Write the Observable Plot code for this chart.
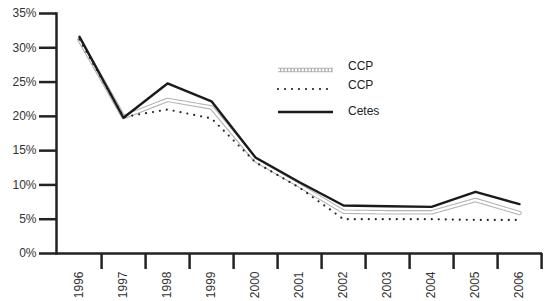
<!DOCTYPE html>
<html>
<head>
<meta charset="utf-8">
<script src="https://cdn.jsdelivr.net/npm/d3@7"></script>
<script src="https://cdn.jsdelivr.net/npm/@observablehq/plot@0.6"></script>
<style>
  html, body { margin: 0; padding: 0; background: #fff; }
  #wrap { position: relative; width: 545px; height: 301px; font-family: "Liberation Sans", Arial, sans-serif; }
  #legend { position: absolute; left: 0; top: 0; pointer-events: none; }
</style>
</head>
<body>
<div id="wrap"></div>
<script>
const years = ["1996","1997","1998","1999","2000","2001","2002","2003","2004","2005","2006"];
const cetes = [31.6, 19.8, 24.8, 22.2, 14.0, 10.4, 7.0, 6.9, 6.8, 9.0, 7.2];
const ccpA  = [31.2, 19.9, 22.4, 21.3, 13.6, 9.9, 6.1, 6.0, 6.0, 7.8, 5.9];
const ccpB  = [31.2, 19.9, 21.0, 19.7, 13.3, 9.6, 5.0, 5.0, 5.0, 4.9, 4.9];
const yTicks = [0, 0.05, 0.10, 0.15, 0.20, 0.25, 0.30, 0.35];
const legendLabels = ["CCP", "CCP", "Cetes"];

const rows = years.map((y, i) => ({year: y, cetes: cetes[i] / 100, ccpA: ccpA[i] / 100, ccpB: ccpB[i] / 100}));

const hatchBase = {stroke: "#b3b3b3", strokeWidth: 4.5};
const hatchTop = {stroke: "#fff", strokeWidth: 2.4, strokeDasharray: "2,1.4"};

const plot = Plot.plot({
  width: 545, height: 301,
  marginLeft: 56, marginRight: 3, marginTop: 13, marginBottom: 48,
  x: {type: "band", domain: years, padding: 0, axis: null},
  y: {domain: [0, 0.35], axis: null},
  style: {fontFamily: "'Liberation Sans', Arial, sans-serif", fontSize: "12px", color: "#222", background: "#fff"},
  marks: [
    Plot.axisY({ticks: yTicks, tickSize: 17, tickPadding: 3, tickFormat: d3.format(".0%"), strokeWidth: 2.5, label: null, fontSize: 12, fill: "#333"}),
    Plot.axisX({tickSize: 0, tickPadding: 18, tickRotate: -90, label: null, fontSize: 12, fill: "#333"}),
    Plot.axisX({tickSize: 16, tickFormat: () => "", dx: 486 / 11 / 2, strokeWidth: 2.5, label: null}),
    Plot.frame({anchor: "left", strokeWidth: 2.5, stroke: "#222"}),
    Plot.ruleY([0], {strokeWidth: 2.5, stroke: "#222"}),
    Plot.line(rows, {x: "year", y: "ccpA", ...hatchBase}),
    Plot.line(rows, {x: "year", y: "ccpA", ...hatchTop}),
    Plot.line(rows, {x: "year", y: "ccpB", stroke: "#222", strokeWidth: 2.2, strokeDasharray: "0,7", strokeLinecap: "round"}),
    Plot.line(rows, {x: "year", y: "cetes", stroke: "#1a1a1a", strokeWidth: 2.4})
  ]
});
const wrap = document.getElementById("wrap");
wrap.appendChild(plot);

// legend overlay
const lg = d3.select(wrap).append("svg").attr("id", "legend").attr("width", 545).attr("height", 301);
const ly = [70, 89, 112];
const styles = [
  [{stroke: "#b3b3b3", "stroke-width": 4.5}, {stroke: "#fff", "stroke-width": 2.4, "stroke-dasharray": "2,1.4"}],
  [{stroke: "#222", "stroke-width": 2.2, "stroke-dasharray": "0,7", "stroke-linecap": "round"}],
  [{stroke: "#1a1a1a", "stroke-width": 2.4}]
];
legendLabels.forEach((t, i) => {
  styles[i].forEach(s => {
    const l = lg.append("line").attr("x1", 278).attr("x2", 333).attr("y1", ly[i]).attr("y2", ly[i]);
    Object.entries(s).forEach(([k, v]) => l.attr(k, v));
  });
  lg.append("text").attr("x", 348).attr("y", ly[i] + [0, 0, 3][i]).attr("font-size", 12)
    .attr("font-family", "'Liberation Sans', Arial, sans-serif").attr("fill", "#222").text(t);
});
</script>
</body>
</html>
